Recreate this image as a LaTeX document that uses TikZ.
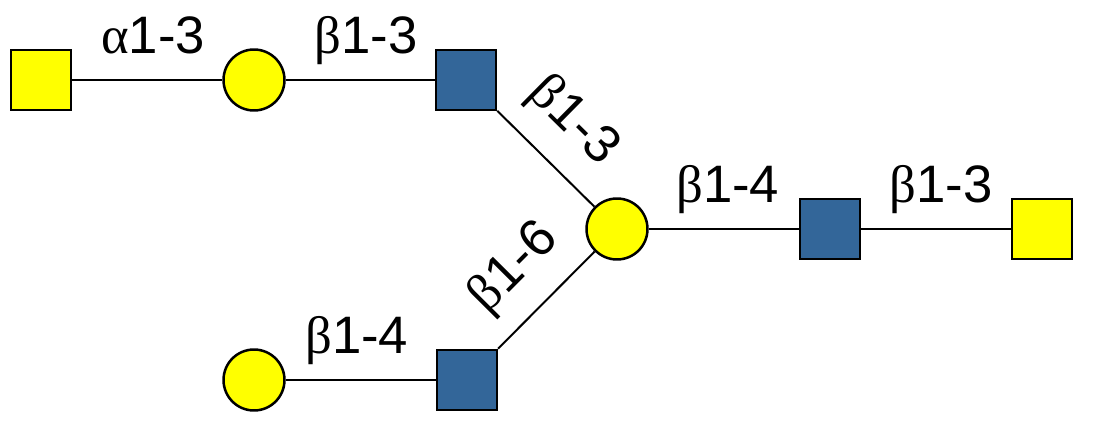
\documentclass[tikz,border=0pt]{standalone}
\usepackage{fontspec}
\setmainfont{Liberation Sans}
\newfontfamily\grk{Liberation Serif}
\definecolor{glcblue}{RGB}{51,102,153}
\definecolor{glcyellow}{RGB}{255,255,0}

\begin{document}
\begin{tikzpicture}[x=0.02cm,y=-0.02cm,
	sq/.style={draw,line width=0.05cm,minimum size=1.2cm,inner sep=0pt},
	ci/.style={draw,circle,line width=0.05cm,minimum size=1.22cm,inner sep=0pt,fill=glcyellow},
	link/.style={line width=0.04cm},
	lbl/.style={font=\fontsize{30}{34}\selectfont,text height=0.8cm,text depth=0pt,inner sep=0pt,above=0.52cm},
	dlbl/.style={lbl,sloped,above=0.1cm}]
	\useasboundingbox (0,0) rectangle (1094,425);

	\node[sq,fill=glcyellow] (galnac1) at (41,80) {};
	\node[ci] (gal1) at (254,80) {};
	\node[sq,fill=glcblue] (glcnac1) at (466,80) {};
	\node[ci] (gal2) at (617,229) {};
	\node[sq,fill=glcblue] (glcnac2) at (830,229) {};
	\node[sq,fill=glcyellow] (galnac2) at (1042,229) {};
	\node[ci] (gal3) at (254,380) {};
	\node[sq,fill=glcblue] (glcnac3) at (467,380) {};

	\draw[link] (galnac1) -- node[lbl,xshift=0.12cm] {{\grk α}1-3} (gal1);
	\draw[link] (gal1) -- node[lbl,xshift=0.12cm] {{\grk β}1-3} (glcnac1);
	\draw[link] (glcnac1) -- node[dlbl,xshift=-0.14cm] {{\grk β}1-3} (gal2);
	\draw[link] (glcnac3) -- node[dlbl] {{\grk β}1-6} (gal2);
	\draw[link] (gal2) -- node[lbl,xshift=0.08cm] {{\grk β}1-4} (glcnac2);
	\draw[link] (glcnac2) -- node[lbl,xshift=0.1cm] {{\grk β}1-3} (galnac2);
	\draw[link] (gal3) -- node[lbl,xshift=-0.08cm] {{\grk β}1-4} (glcnac3);
\end{tikzpicture}
\end{document}
